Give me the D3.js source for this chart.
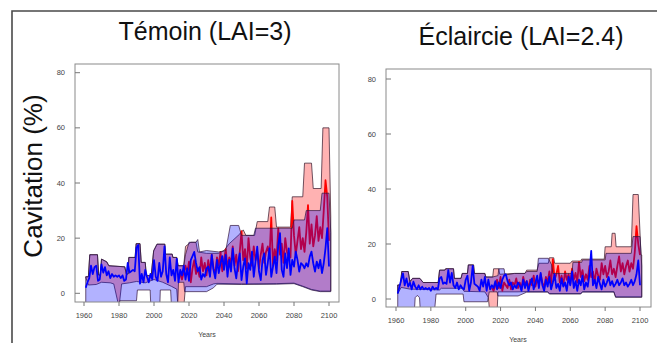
<!DOCTYPE html>
<html><head><meta charset="utf-8">
<script src="https://cdn.jsdelivr.net/npm/d3@7"></script>
<style>body{margin:0;background:#fff}svg{display:block;font-family:"Liberation Sans",Arial,sans-serif}</style>
</head><body>
<svg id="c" width="657" height="343"></svg>
<script>
// ---------------- DATA ----------------
const titles = ["Témoin (LAI=3)", "Éclaircie (LAI=2.4)"];
const yLabel = "Cavitation (%)";
const xLabel = "Years";
const xTicks = [1960, 1980, 2000, 2020, 2040, 2060, 2080, 2100];
const yTicks = [0, 20, 40, 60, 80];
const blueStart = 1961, redStart = 2015;

// Left panel (Témoin)
const L_blue = [2,4,5.5,10,7,9.5,10,4.5,5,10.5,7.5,9.5,6.5,8,5.5,7,6,6.5,6,6.5,
 5.5,6.5,4.5,5,11,7.5,8,8.5,8,16.5,17.5,3.5,7,4,8.5,6,4,7,5,12,
 6,4.5,11,6,8,17,7,4,13,6.5,8.5,4.5,12.5,4,8.5,6.5,10,5,9,4.5,
 12,13.5,15,11,8,9.5,5,7,6,9,9.7,6,13.9,8.5,5.4,12.1,7.3,10.9,13.5,8.5,
 13.9,6,12.1,7.9,16.3,9.1,5.4,10.9,14.5,4.8,9.7,12.7,3.6,10.9,8.5,15.1,6,11.5,16.9,7.9,
 4.8,12.1,14.5,6.7,10.9,16.3,6,9.7,13.3,7.3,17.5,21.8,8.5,6,14.5,9.1,16.3,6.7,12.1,9.7,
 15.1,12.1,7.9,10.9,10.3,9.1,10.9,9.7,13.3,15.1,10.9,7.9,11.5,9.1,12.1,7.3,10.9,16.3,23.6,9.7];
const L_red = [7,5,8,10,7,11.5,4,9,12,7,9,6,13,8,11,6.5,
 12,8,14,9,7,13,10,15,8,12,16,9,13,11,17,10,14,8,15,22.5,
 12,16,9,20,13,10,17,12,15,9,14,18,11,15,17,13,27.5,10,16,12,
 23.5,14,18,11,20,15,13,13,33.5,21,14,19,24,16,20,15,22,32,18,25,
 17,21,28,19,24,20,30,41,35,19];
const L_histHi = [[1961,6],[1962.5,6],[1963.3,14],[1967.7,14],[1968.4,6.6],[1969.3,6.6],[1970,12.4],[1973,11.4],[1974.2,10],[1983.3,9.6],[1984.2,7],[1985.2,7],[1985.6,13],[1989.2,13],[1989.8,18],[1992,18],[1992.7,11.2],[1995,11.2],[1995.6,6.4],[1998.4,6.4],[1999.8,15.4],[2001.7,17.8],[2006.2,17.8],[2006.6,14.2],[2010.4,14.2],[2010.8,13],[2013,13],[2013.8,10],[2017,10]];
const L_redHiFut = [[2018,17],[2021,18.5],[2024,18.5],[2025,15],[2030,14.5],[2037,14.5],[2040,15.5],[2043,18],[2049,21.5],[2051,23],[2052.5,21],[2057.5,21],[2059,26],[2065,26],[2066,31.3],[2069,31.3],[2070,24],[2078,24],[2079,35],[2085,35],[2086,47.2],[2090,47.2],[2091,38],[2095.5,38],[2096.5,60],[2100,60],[2101,28]];
const L_blueHiFut = [[2018,14],[2020,18.5],[2024,18.5],[2025,19.5],[2026,15],[2030,15.5],[2037,15],[2041,15.5],[2043.6,24.6],[2048.4,24.6],[2050,21],[2057,21],[2058,23.6],[2079,23.6],[2080,26.6],[2086,26.6],[2087,30],[2095,30],[2096,36.3],[2100,36.3],[2101,22]];
const L_redLo = [[1961,5.8],[1962.5,3],[1967,3.2],[1970,4],[1975,3.8],[1977,3.4],[1980,-5],[1981.5,3.4],[1986,3.8],[1990,4.3],[1995,3.8],[2000,5],[2005,4],[2010,2.5],[2013,1.5],[2013.7,-5],[2017,-5],[2018,2.4],[2030,2.4],[2034,3.4],[2036,3.6],[2050,3.4],[2070,3.5],[2080,3.7],[2085,2.6],[2090,1.4],[2095,0.8],[2101,0.8]];
const L_blueLo = [[1961,-5],[1979.5,-5],[1980.5,-2.7],[1990,-2.7],[1990.5,1.2],[1997.8,1.2],[1998.2,-5],[2003.3,-5],[2003.6,1.2],[2009.5,1.2],[2010,-5],[2013.5,-5],[2014,4],[2017,4],[2017.5,0.6],[2030,0.6],[2034,2],[2036,3.3],[2050,3.2],[2070,3.3],[2080,3.5],[2085,2.4],[2090,1.2],[2095,0.6],[2101,0.6]];

// Right panel (Éclaircie)
const R_blue = [2,4.5,7,9.3,5,7.5,4.5,6,3.5,6.3,4.5,3.5,5,3.5,4.5,3.5,4,3.5,4,3,
 4.5,3.5,4,3.5,7.5,8,5.5,6,5.5,10.5,6,9.5,5,4,6,3.5,5,4,3.5,7,
 8.5,3,6,12,5.5,5,4.5,3,7,4.5,8,3,7,3.5,5,4,6.5,3.5,6,4,
 7,8.5,9,6.5,5,6,3.5,5,4,6,5,3,7,4,6.5,3,5.5,7.5,3.5,6,
 8.5,4,9.5,5,3,7,4.5,8,3.5,6,9,4,5.5,3,7.5,4.5,6,3,8,5,
 10,4,6.5,3,7,5,8.5,3.5,6,4.5,9,17.5,5,7,4,8,5.5,3.5,7,4.5,
 6,8,5,6.5,4.5,5.5,7,5,6,7.5,5,6,4.5,5.5,7,5,6.5,9,14,5];
const R_red = [4,3,5,7,4,8,3,6,5,4,7,3.5,6,5,7.5,4,
 6,3.5,8,5,6.5,4,7,5,8.5,4.5,7,5.5,9,6,4,8,6,10,5.5,14.5,
 7,9,12,6,8.5,5,10,7,9,5.5,11,7,9.5,6,13.5,8,10.5,6.5,9,7,
 12,8,10,6,11,8.5,7,13,9,12,8,10,14,9,11,8,12,15.5,10,13,
 9,12,14,10,13,11,17,26.5,20,16];
const R_histHi = [[1961,5.1],[1962.5,5.1],[1963.3,10],[1967,10],[1968,6.3],[1969.5,7.5],[1973.7,7.5],[1975.6,6],[1984.2,6],[1985,10.5],[1988,10.5],[1988.5,11],[1993,11],[1993.5,7.5],[1997.3,7.5],[1998,9.3],[2001,9.3],[2001.5,12.4],[2004.5,12.4],[2005,9.3],[2011,9.3],[2011.5,8],[2015.5,8]];
const R_redHiFut = [[2016,11],[2019,11],[2019.5,9],[2028,9.3],[2034,9.3],[2035,10.5],[2041,10.5],[2042,13],[2047.4,13],[2048,15],[2050.5,15],[2051,13],[2060,13],[2061,13.8],[2066,13.8],[2066.5,14.5],[2079.5,14.5],[2080,19],[2083.5,19],[2084,23.9],[2085.7,23.9],[2086.3,19],[2095,19],[2096,38],[2099,38],[2100.6,16],[2101,16]];
const R_blueHiFut = [[2018.5,8.5],[2019,11],[2022,11],[2022.5,8.7],[2028,9.3],[2034,9.3],[2035,10],[2041,10],[2041.7,14.8],[2047.4,14.8],[2049.3,12.4],[2050,9.3],[2061,9.3],[2061.5,13.3],[2066.5,13.3],[2067,14.2],[2080,14.2],[2080.5,16.6],[2095,16.6],[2096,22.7],[2100,22.7],[2101,12]];
const R_redLo = [[1961,2],[1963,4.2],[1968,3.6],[1985,3.3],[1986,3.9],[1998,3.9],[1999,2.8],[2011,2.6],[2013,0.5],[2013.8,-5],[2018,-5],[2018.5,2.6],[2030,2.6],[2035,2.7],[2047,2.7],[2048,2],[2066,2],[2067,2.7],[2085,2.7],[2086,0.8],[2101,0.8]];
const R_blueLo = [[1961,-5],[1970.5,-5],[1971,0.5],[1972.2,1.3],[1973.5,0.5],[1974,-5],[1982,-5],[1983,1.8],[1998.5,1.8],[1999,-1],[2012.5,-1],[2013.5,2.6],[2018,2.6],[2018.5,1.1],[2030,1.1],[2035,2.5],[2047,2.5],[2048,1.8],[2066,1.8],[2067,2.5],[2085,2.5],[2086,0.6],[2101,0.6]];

// ---------------- DRAW ----------------
const svg = d3.select("#c");
svg.append("path").attr("d", "M12,343V11H657").attr("fill", "none").attr("stroke", "#4a4a4a").attr("stroke-width", 1.6);

svg.append("text").attr("x", 33).attr("y", 176).attr("transform", "rotate(-90,33,176)")
  .attr("text-anchor", "middle").attr("dominant-baseline", "central")
  .attr("font-size", 26).attr("fill", "#111").text(yLabel);

const panels = [
  {id: "L", box: {l: 75, t: 64, r: 339, b: 302}, xr: [84, 329], yr: [293.3, 72.7],
   title: titles[0], tx: 205, ty: 40, lx: 207, ly: 337,
   blue: L_blue, red: L_red, redHi: L_histHi.concat(L_redHiFut), blueHi: L_histHi.concat(L_blueHiFut),
   redLo: L_redLo, blueLo: L_blueLo},
  {id: "R", box: {l: 386, t: 69, r: 651, b: 307}, xr: [396, 640], yr: [299, 79],
   title: titles[1], tx: 521, ty: 45, lx: 518, ly: 342,
   blue: R_blue, red: R_red, redHi: R_histHi.concat(R_redHiFut), blueHi: R_histHi.concat(R_blueHiFut),
   redLo: R_redLo, blueLo: R_blueLo}
];

panels.forEach(p => {
  const x = d3.scaleLinear().domain([1960, 2100]).range(p.xr);
  const y = d3.scaleLinear().domain([0, 80]).range(p.yr);
  const g = svg.append("g");
  const b = p.box;
  g.append("clipPath").attr("id", "clip" + p.id).append("rect")
    .attr("x", b.l).attr("y", b.t).attr("width", b.r - b.l).attr("height", b.b - b.t);
  const c = g.append("g").attr("clip-path", `url(#clip${p.id})`);
  const ln = d3.line().x(d => x(d[0])).y(d => y(d[1]));
  const band = (hi, lo) => ln(hi.concat(lo.slice().reverse())) + "Z";
  const blueYears = d3.range(blueStart, blueStart + p.blue.length);
  const redYears = d3.range(redStart, redStart + p.red.length);

  c.append("path").attr("d", band(p.redHi, p.redLo))
    .attr("fill", "rgba(255,0,0,0.3)").attr("stroke", "rgba(50,20,40,0.7)").attr("stroke-width", 1);
  c.append("path").attr("d", ln(redYears.map((yr, i) => [yr, p.red[i]])))
    .attr("fill", "none").attr("stroke", "#ff0000").attr("stroke-width", 1.8).attr("stroke-linejoin", "round");
  c.append("path").attr("d", band(p.blueHi, p.blueLo))
    .attr("fill", "rgba(0,0,255,0.3)").attr("stroke", "rgba(50,20,60,0.7)").attr("stroke-width", 1);
  c.append("path").attr("d", ln(blueYears.map((yr, i) => [yr, p.blue[i]])))
    .attr("fill", "none").attr("stroke", "#0000ff").attr("stroke-width", 1.8).attr("stroke-linejoin", "round");

  // box
  g.append("rect").attr("x", b.l).attr("y", b.t).attr("width", b.r - b.l).attr("height", b.b - b.t)
    .attr("fill", "none").attr("stroke", "#8a8a8a").attr("stroke-width", 1);
  // y ticks
  yTicks.forEach(t => {
    g.append("line").attr("x1", b.l).attr("x2", b.l + 5).attr("y1", y(t)).attr("y2", y(t)).attr("stroke", "#777");
    g.append("text").attr("x", b.l - 10).attr("y", y(t)).attr("text-anchor", "end")
      .attr("dominant-baseline", "central").attr("font-size", 7.5).attr("fill", "#444").text(t);
  });
  xTicks.forEach(t => {
    g.append("line").attr("x1", x(t)).attr("x2", x(t)).attr("y1", b.b).attr("y2", b.b + 4).attr("stroke", "#777");
    g.append("text").attr("x", x(t)).attr("y", b.b + 16).attr("text-anchor", "middle")
      .attr("font-size", 7.5).attr("fill", "#444").text(t);
  });
  g.append("text").attr("x", p.lx).attr("y", p.ly).attr("text-anchor", "middle")
    .attr("font-size", 7).attr("fill", "#444").text(xLabel);
  g.append("text").attr("x", p.tx).attr("y", p.ty).attr("text-anchor", "middle")
    .attr("font-size", 25).attr("fill", "#111").text(p.title);
});
</script>
</body></html>
